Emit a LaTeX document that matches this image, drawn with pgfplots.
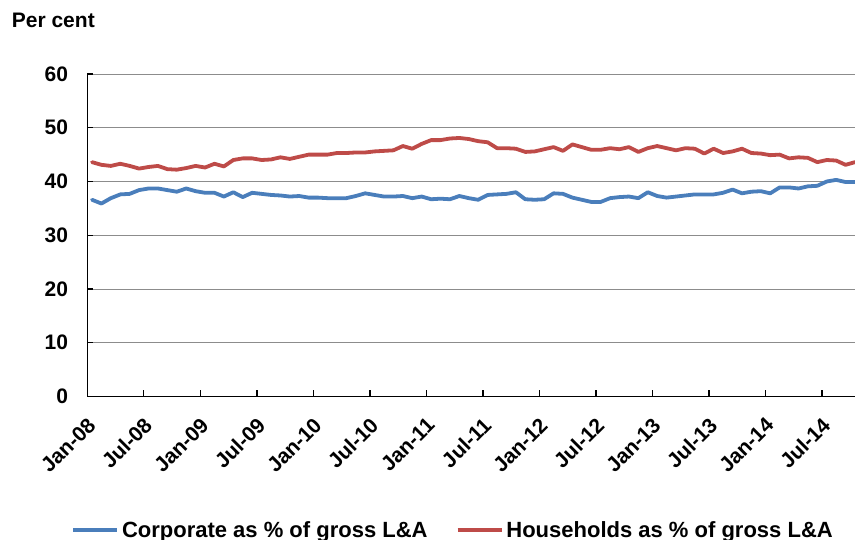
\documentclass[border=0pt]{standalone}
\usepackage{fontspec}
\setmainfont{Liberation Sans}
\usepackage{pgfplots}
\usepackage{pgfplotstable}
\pgfplotsset{compat=1.18}
\definecolor{corpblue}{HTML}{4A7EBB}
\definecolor{hhred}{HTML}{BE4B48}
\definecolor{gridgray}{HTML}{8C8C8C}

\pgfplotstableread{
x corp hh
0.5 36.6 43.6
1.5 35.9 43.1
2.5 36.9 42.9
3.5 37.6 43.3
4.5 37.7 42.9
5.5 38.4 42.4
6.5 38.7 42.7
7.5 38.7 42.9
8.5 38.4 42.3
9.5 38.1 42.2
10.5 38.7 42.5
11.5 38.2 42.9
12.5 37.9 42.6
13.5 37.9 43.3
14.5 37.2 42.8
15.5 38.0 44.0
16.5 37.1 44.3
17.5 37.9 44.3
18.5 37.7 44.0
19.5 37.5 44.1
20.5 37.4 44.5
21.5 37.2 44.2
22.5 37.3 44.6
23.5 37.0 45.0
24.5 37.0 45.0
25.5 36.9 45.0
26.5 36.9 45.3
27.5 36.9 45.3
28.5 37.3 45.4
29.5 37.8 45.4
30.5 37.5 45.6
31.5 37.2 45.7
32.5 37.2 45.8
33.5 37.3 46.6
34.5 36.9 46.1
35.5 37.2 47.0
36.5 36.7 47.7
37.5 36.8 47.7
38.5 36.7 48.0
39.5 37.3 48.1
40.5 36.9 47.9
41.5 36.6 47.5
42.5 37.5 47.3
43.5 37.6 46.2
44.5 37.7 46.2
45.5 38.0 46.1
46.5 36.7 45.5
47.5 36.6 45.6
48.5 36.7 46.0
49.5 37.8 46.4
50.5 37.7 45.7
51.5 37.0 46.9
52.5 36.6 46.4
53.5 36.2 45.9
54.5 36.2 45.9
55.5 36.9 46.2
56.5 37.1 46.0
57.5 37.2 46.4
58.5 36.9 45.5
59.5 38.0 46.2
60.5 37.3 46.6
61.5 37.0 46.2
62.5 37.2 45.8
63.5 37.4 46.2
64.5 37.6 46.1
65.5 37.6 45.2
66.5 37.6 46.1
67.5 37.9 45.3
68.5 38.5 45.6
69.5 37.8 46.1
70.5 38.1 45.3
71.5 38.2 45.2
72.5 37.8 44.9
73.5 38.9 45.0
74.5 38.9 44.3
75.5 38.7 44.5
76.5 39.1 44.4
77.5 39.2 43.6
78.5 40.0 44.0
79.5 40.3 43.9
80.5 39.9 43.1
81.5 39.9 43.6
}\datatable

\begin{document}
\begin{tikzpicture}
\useasboundingbox (0,0) rectangle (855bp,540bp);
\node[anchor=base west, font=\fontsize{21bp}{25bp}\selectfont\bfseries, inner sep=0pt] at (11.7bp,512bp) {Per cent};
\begin{axis}[
  at={(87.3bp,143.5bp)}, anchor=south west,
  scale only axis,
  width=767.7bp, height=322.5bp,
  xmin=0, xmax=81.5,
  ymin=0, ymax=60,
  ytick={0,10,...,60},
  xtick={0,6,...,78},
  xticklabels={Jan-08,Jul-08,Jan-09,Jul-09,Jan-10,Jul-10,Jan-11,Jul-11,Jan-12,Jul-12,Jan-13,Jul-13,Jan-14,Jul-14},
  axis x line*=bottom,
  axis y line*=left,
  axis line style={black, line width=1.3bp, -},
  tick align=inside,
  major tick length=6bp,
  tick style={black, line width=1.3bp},
  ymajorgrids=true,
  major grid style={gridgray, line width=1bp},
  /pgf/number format/assume math mode=true,
  ticklabel style={font=\fontsize{21bp}{25bp}\selectfont\bfseries},
  yticklabel style={anchor=east, inner sep=0pt, xshift=-19bp},
  xticklabel style={xshift=4.5bp, yshift=-25bp, rotate=45, anchor=east, inner sep=0pt},
  legend columns=2,
  legend style={
    at={(axis description cs:0.477,-0.414)}, anchor=center,
    draw=none, fill=none,
    font=\fontsize{22bp}{26bp}\selectfont\bfseries,
    nodes={inner xsep=3bp, inner ysep=0pt},
    /tikz/every even column/.append style={column sep=25bp},
  },
  legend image code/.code={\draw[#1, line cap=butt] (0bp,0bp) -- (44bp,0bp);},
  every axis plot/.append style={line join=round, line cap=round},
]
\addplot[corpblue, line width=3.8bp] table[x=x, y=corp] {\datatable};
\addlegendentry{Corporate as \% of gross L\&A}
\addplot[hhred, line width=3.8bp] table[x=x, y=hh] {\datatable};
\addlegendentry{Households as \% of gross L\&A}
\end{axis}
\end{tikzpicture}
\end{document}
